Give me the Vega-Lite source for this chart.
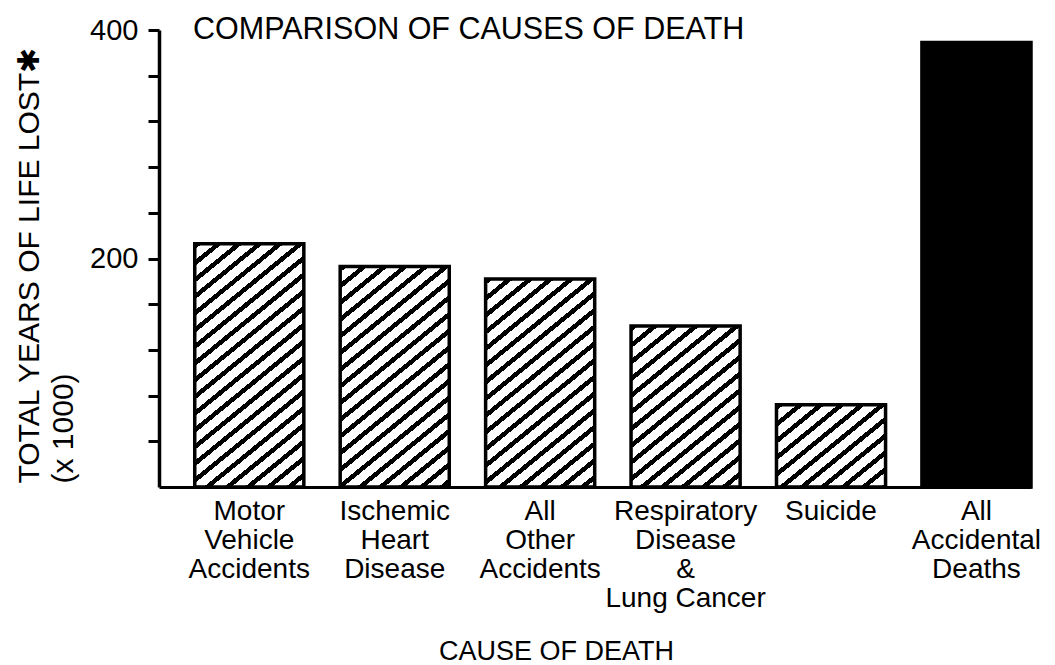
{
  "$schema": "https://vega.github.io/schema/vega-lite/v6.json",
  "autosize": {"type": "none"},
  "padding": {"left": 159, "top": 30, "right": 24, "bottom": 178},
  "width": 872,
  "height": 457,
  "background": "white",
  "title": {"text": "COMPARISON OF CAUSES OF DEATH", "anchor": "start", "frame": "group", "dx": 34, "offset": -53, "baseline": "alphabetic", "fontSize": 30.5, "fontWeight": "normal", "font": "Liberation Sans", "color": "black"},
  "data": {"values": [
    {"cause": "Motor Vehicle Accidents", "years": 213},
    {"cause": "Ischemic Heart Disease", "years": 193},
    {"cause": "All Other Accidents", "years": 182},
    {"cause": "Respiratory Disease & Lung\u00a0Cancer", "years": 141},
    {"cause": "Suicide", "years": 72},
    {"cause": "All Accidental Deaths", "years": 389}
  ]},
  "encoding": {
    "x": {"field": "cause", "type": "nominal",
      "scale": {"domain": ["Motor Vehicle Accidents", "Ischemic Heart Disease", "All Other Accidents", "Respiratory Disease & Lung\u00a0Cancer", "Suicide", "All Accidental Deaths"], "paddingInner": 0.25, "paddingOuter": 0.1229, "align": 1, "round": false},
      "axis": {"title": "CAUSE OF DEATH", "labelAngle": 0, "labelExpr": "split(datum.label, ' ')", "labelFontSize": 28, "labelLineHeight": 29, "labelColor": "black", "labelLimit": 0, "labelOverlap": false, "labelBound": false, "ticks": false, "labelPadding": 10, "domainColor": "black", "domainWidth": 3, "titleFontSize": 27, "titleFontWeight": "normal", "titleColor": "black", "titleX": 397, "titleY": 172, "titleBaseline": "alphabetic", "titleAlign": "center"}},
    "y": {"field": "years", "type": "quantitative",
      "scale": {"domain": [0, 400], "nice": false, "zero": true},
      "axis": {"title": ["TOTAL YEARS OF LIFE LOST\u2731", "(x 1000)"], "titleFontSize": 30, "titleFontWeight": "normal", "titleColor": "black", "titleAngle": 270, "titleX": -121, "titleY": 453, "titleAlign": "left", "titleBaseline": "alphabetic", "titleLineHeight": 34,
        "values": [40, 80, 120, 160, 200, 240, 280, 320, 360, 400], "labelExpr": "datum.value == 200 || datum.value == 400 ? datum.label : ''", "labelFontSize": 29, "labelColor": "black", "labelPadding": 10, "tickSize": 11, "tickWidth": 3, "tickColor": "black", "domainColor": "black", "domainWidth": 3.5, "grid": false, "labelOverlap": false}}
  },
  "layer": [
    {"transform": [{"filter": {"field": "cause", "equal": "Motor Vehicle Accidents"}}],
     "mark": {"type": "bar", "stroke": "black", "strokeWidth": 3.5, "fill": {"gradient": "linear", "x1": 0, "y1": 0, "x2": 0.4643, "y2": 1.2716, "stops": [
{"offset":0,"color":"#000"},{"offset":0.0167,"color":"#000"},{"offset":0.0167,"color":"#fff"},{"offset":0.0476,"color":"#fff"},
{"offset":0.0476,"color":"#000"},{"offset":0.0643,"color":"#000"},{"offset":0.0643,"color":"#fff"},{"offset":0.0952,"color":"#fff"},
{"offset":0.0952,"color":"#000"},{"offset":0.1119,"color":"#000"},{"offset":0.1119,"color":"#fff"},{"offset":0.1429,"color":"#fff"},
{"offset":0.1429,"color":"#000"},{"offset":0.1595,"color":"#000"},{"offset":0.1595,"color":"#fff"},{"offset":0.1905,"color":"#fff"},
{"offset":0.1905,"color":"#000"},{"offset":0.2071,"color":"#000"},{"offset":0.2071,"color":"#fff"},{"offset":0.2381,"color":"#fff"},
{"offset":0.2381,"color":"#000"},{"offset":0.2548,"color":"#000"},{"offset":0.2548,"color":"#fff"},{"offset":0.2857,"color":"#fff"},
{"offset":0.2857,"color":"#000"},{"offset":0.3024,"color":"#000"},{"offset":0.3024,"color":"#fff"},{"offset":0.3333,"color":"#fff"},
{"offset":0.3333,"color":"#000"},{"offset":0.35,"color":"#000"},{"offset":0.35,"color":"#fff"},{"offset":0.381,"color":"#fff"},
{"offset":0.381,"color":"#000"},{"offset":0.3976,"color":"#000"},{"offset":0.3976,"color":"#fff"},{"offset":0.4286,"color":"#fff"},
{"offset":0.4286,"color":"#000"},{"offset":0.4452,"color":"#000"},{"offset":0.4452,"color":"#fff"},{"offset":0.4762,"color":"#fff"},
{"offset":0.4762,"color":"#000"},{"offset":0.4929,"color":"#000"},{"offset":0.4929,"color":"#fff"},{"offset":0.5238,"color":"#fff"},
{"offset":0.5238,"color":"#000"},{"offset":0.5405,"color":"#000"},{"offset":0.5405,"color":"#fff"},{"offset":0.5714,"color":"#fff"},
{"offset":0.5714,"color":"#000"},{"offset":0.5881,"color":"#000"},{"offset":0.5881,"color":"#fff"},{"offset":0.619,"color":"#fff"},
{"offset":0.619,"color":"#000"},{"offset":0.6357,"color":"#000"},{"offset":0.6357,"color":"#fff"},{"offset":0.6667,"color":"#fff"},
{"offset":0.6667,"color":"#000"},{"offset":0.6833,"color":"#000"},{"offset":0.6833,"color":"#fff"},{"offset":0.7143,"color":"#fff"},
{"offset":0.7143,"color":"#000"},{"offset":0.731,"color":"#000"},{"offset":0.731,"color":"#fff"},{"offset":0.7619,"color":"#fff"},
{"offset":0.7619,"color":"#000"},{"offset":0.7786,"color":"#000"},{"offset":0.7786,"color":"#fff"},{"offset":0.8095,"color":"#fff"},
{"offset":0.8095,"color":"#000"},{"offset":0.8262,"color":"#000"},{"offset":0.8262,"color":"#fff"},{"offset":0.8571,"color":"#fff"},
{"offset":0.8571,"color":"#000"},{"offset":0.8738,"color":"#000"},{"offset":0.8738,"color":"#fff"},{"offset":0.9048,"color":"#fff"},
{"offset":0.9048,"color":"#000"},{"offset":0.9214,"color":"#000"},{"offset":0.9214,"color":"#fff"},{"offset":0.9524,"color":"#fff"},
{"offset":0.9524,"color":"#000"},{"offset":0.969,"color":"#000"},{"offset":0.969,"color":"#fff"},{"offset":1,"color":"#fff"}]}}},
    {"transform": [{"filter": {"field": "cause", "equal": "Ischemic Heart Disease"}}],
     "mark": {"type": "bar", "stroke": "black", "strokeWidth": 3.5, "fill": {"gradient": "linear", "x1": 0, "y1": 0, "x2": 0.5514, "y2": 1.3683, "stops": [
{"offset":0,"color":"#000"},{"offset":0.0167,"color":"#000"},{"offset":0.0167,"color":"#fff"},{"offset":0.0476,"color":"#fff"},
{"offset":0.0476,"color":"#000"},{"offset":0.0643,"color":"#000"},{"offset":0.0643,"color":"#fff"},{"offset":0.0952,"color":"#fff"},
{"offset":0.0952,"color":"#000"},{"offset":0.1119,"color":"#000"},{"offset":0.1119,"color":"#fff"},{"offset":0.1429,"color":"#fff"},
{"offset":0.1429,"color":"#000"},{"offset":0.1595,"color":"#000"},{"offset":0.1595,"color":"#fff"},{"offset":0.1905,"color":"#fff"},
{"offset":0.1905,"color":"#000"},{"offset":0.2071,"color":"#000"},{"offset":0.2071,"color":"#fff"},{"offset":0.2381,"color":"#fff"},
{"offset":0.2381,"color":"#000"},{"offset":0.2548,"color":"#000"},{"offset":0.2548,"color":"#fff"},{"offset":0.2857,"color":"#fff"},
{"offset":0.2857,"color":"#000"},{"offset":0.3024,"color":"#000"},{"offset":0.3024,"color":"#fff"},{"offset":0.3333,"color":"#fff"},
{"offset":0.3333,"color":"#000"},{"offset":0.35,"color":"#000"},{"offset":0.35,"color":"#fff"},{"offset":0.381,"color":"#fff"},
{"offset":0.381,"color":"#000"},{"offset":0.3976,"color":"#000"},{"offset":0.3976,"color":"#fff"},{"offset":0.4286,"color":"#fff"},
{"offset":0.4286,"color":"#000"},{"offset":0.4452,"color":"#000"},{"offset":0.4452,"color":"#fff"},{"offset":0.4762,"color":"#fff"},
{"offset":0.4762,"color":"#000"},{"offset":0.4929,"color":"#000"},{"offset":0.4929,"color":"#fff"},{"offset":0.5238,"color":"#fff"},
{"offset":0.5238,"color":"#000"},{"offset":0.5405,"color":"#000"},{"offset":0.5405,"color":"#fff"},{"offset":0.5714,"color":"#fff"},
{"offset":0.5714,"color":"#000"},{"offset":0.5881,"color":"#000"},{"offset":0.5881,"color":"#fff"},{"offset":0.619,"color":"#fff"},
{"offset":0.619,"color":"#000"},{"offset":0.6357,"color":"#000"},{"offset":0.6357,"color":"#fff"},{"offset":0.6667,"color":"#fff"},
{"offset":0.6667,"color":"#000"},{"offset":0.6833,"color":"#000"},{"offset":0.6833,"color":"#fff"},{"offset":0.7143,"color":"#fff"},
{"offset":0.7143,"color":"#000"},{"offset":0.731,"color":"#000"},{"offset":0.731,"color":"#fff"},{"offset":0.7619,"color":"#fff"},
{"offset":0.7619,"color":"#000"},{"offset":0.7786,"color":"#000"},{"offset":0.7786,"color":"#fff"},{"offset":0.8095,"color":"#fff"},
{"offset":0.8095,"color":"#000"},{"offset":0.8262,"color":"#000"},{"offset":0.8262,"color":"#fff"},{"offset":0.8571,"color":"#fff"},
{"offset":0.8571,"color":"#000"},{"offset":0.8738,"color":"#000"},{"offset":0.8738,"color":"#fff"},{"offset":0.9048,"color":"#fff"},
{"offset":0.9048,"color":"#000"},{"offset":0.9214,"color":"#000"},{"offset":0.9214,"color":"#fff"},{"offset":0.9524,"color":"#fff"},
{"offset":0.9524,"color":"#000"},{"offset":0.969,"color":"#000"},{"offset":0.969,"color":"#fff"},{"offset":1,"color":"#fff"}]}}},
    {"transform": [{"filter": {"field": "cause", "equal": "All Other Accidents"}}],
     "mark": {"type": "bar", "stroke": "black", "strokeWidth": 3.5, "fill": {"gradient": "linear", "x1": 0, "y1": 0, "x2": 0.6094, "y2": 1.4262, "stops": [
{"offset":0,"color":"#000"},{"offset":0.0167,"color":"#000"},{"offset":0.0167,"color":"#fff"},{"offset":0.0476,"color":"#fff"},
{"offset":0.0476,"color":"#000"},{"offset":0.0643,"color":"#000"},{"offset":0.0643,"color":"#fff"},{"offset":0.0952,"color":"#fff"},
{"offset":0.0952,"color":"#000"},{"offset":0.1119,"color":"#000"},{"offset":0.1119,"color":"#fff"},{"offset":0.1429,"color":"#fff"},
{"offset":0.1429,"color":"#000"},{"offset":0.1595,"color":"#000"},{"offset":0.1595,"color":"#fff"},{"offset":0.1905,"color":"#fff"},
{"offset":0.1905,"color":"#000"},{"offset":0.2071,"color":"#000"},{"offset":0.2071,"color":"#fff"},{"offset":0.2381,"color":"#fff"},
{"offset":0.2381,"color":"#000"},{"offset":0.2548,"color":"#000"},{"offset":0.2548,"color":"#fff"},{"offset":0.2857,"color":"#fff"},
{"offset":0.2857,"color":"#000"},{"offset":0.3024,"color":"#000"},{"offset":0.3024,"color":"#fff"},{"offset":0.3333,"color":"#fff"},
{"offset":0.3333,"color":"#000"},{"offset":0.35,"color":"#000"},{"offset":0.35,"color":"#fff"},{"offset":0.381,"color":"#fff"},
{"offset":0.381,"color":"#000"},{"offset":0.3976,"color":"#000"},{"offset":0.3976,"color":"#fff"},{"offset":0.4286,"color":"#fff"},
{"offset":0.4286,"color":"#000"},{"offset":0.4452,"color":"#000"},{"offset":0.4452,"color":"#fff"},{"offset":0.4762,"color":"#fff"},
{"offset":0.4762,"color":"#000"},{"offset":0.4929,"color":"#000"},{"offset":0.4929,"color":"#fff"},{"offset":0.5238,"color":"#fff"},
{"offset":0.5238,"color":"#000"},{"offset":0.5405,"color":"#000"},{"offset":0.5405,"color":"#fff"},{"offset":0.5714,"color":"#fff"},
{"offset":0.5714,"color":"#000"},{"offset":0.5881,"color":"#000"},{"offset":0.5881,"color":"#fff"},{"offset":0.619,"color":"#fff"},
{"offset":0.619,"color":"#000"},{"offset":0.6357,"color":"#000"},{"offset":0.6357,"color":"#fff"},{"offset":0.6667,"color":"#fff"},
{"offset":0.6667,"color":"#000"},{"offset":0.6833,"color":"#000"},{"offset":0.6833,"color":"#fff"},{"offset":0.7143,"color":"#fff"},
{"offset":0.7143,"color":"#000"},{"offset":0.731,"color":"#000"},{"offset":0.731,"color":"#fff"},{"offset":0.7619,"color":"#fff"},
{"offset":0.7619,"color":"#000"},{"offset":0.7786,"color":"#000"},{"offset":0.7786,"color":"#fff"},{"offset":0.8095,"color":"#fff"},
{"offset":0.8095,"color":"#000"},{"offset":0.8262,"color":"#000"},{"offset":0.8262,"color":"#fff"},{"offset":0.8571,"color":"#fff"},
{"offset":0.8571,"color":"#000"},{"offset":0.8738,"color":"#000"},{"offset":0.8738,"color":"#fff"},{"offset":0.9048,"color":"#fff"},
{"offset":0.9048,"color":"#000"},{"offset":0.9214,"color":"#000"},{"offset":0.9214,"color":"#fff"},{"offset":0.9524,"color":"#fff"},
{"offset":0.9524,"color":"#000"},{"offset":0.969,"color":"#000"},{"offset":0.969,"color":"#fff"},{"offset":1,"color":"#fff"}]}}},
    {"transform": [{"filter": {"field": "cause", "equal": "Respiratory Disease & Lung\u00a0Cancer"}}],
     "mark": {"type": "bar", "stroke": "black", "strokeWidth": 3.5, "fill": {"gradient": "linear", "x1": 0, "y1": 0, "x2": 0.9207, "y2": 1.6692, "stops": [
{"offset":0,"color":"#000"},{"offset":0.0167,"color":"#000"},{"offset":0.0167,"color":"#fff"},{"offset":0.0476,"color":"#fff"},
{"offset":0.0476,"color":"#000"},{"offset":0.0643,"color":"#000"},{"offset":0.0643,"color":"#fff"},{"offset":0.0952,"color":"#fff"},
{"offset":0.0952,"color":"#000"},{"offset":0.1119,"color":"#000"},{"offset":0.1119,"color":"#fff"},{"offset":0.1429,"color":"#fff"},
{"offset":0.1429,"color":"#000"},{"offset":0.1595,"color":"#000"},{"offset":0.1595,"color":"#fff"},{"offset":0.1905,"color":"#fff"},
{"offset":0.1905,"color":"#000"},{"offset":0.2071,"color":"#000"},{"offset":0.2071,"color":"#fff"},{"offset":0.2381,"color":"#fff"},
{"offset":0.2381,"color":"#000"},{"offset":0.2548,"color":"#000"},{"offset":0.2548,"color":"#fff"},{"offset":0.2857,"color":"#fff"},
{"offset":0.2857,"color":"#000"},{"offset":0.3024,"color":"#000"},{"offset":0.3024,"color":"#fff"},{"offset":0.3333,"color":"#fff"},
{"offset":0.3333,"color":"#000"},{"offset":0.35,"color":"#000"},{"offset":0.35,"color":"#fff"},{"offset":0.381,"color":"#fff"},
{"offset":0.381,"color":"#000"},{"offset":0.3976,"color":"#000"},{"offset":0.3976,"color":"#fff"},{"offset":0.4286,"color":"#fff"},
{"offset":0.4286,"color":"#000"},{"offset":0.4452,"color":"#000"},{"offset":0.4452,"color":"#fff"},{"offset":0.4762,"color":"#fff"},
{"offset":0.4762,"color":"#000"},{"offset":0.4929,"color":"#000"},{"offset":0.4929,"color":"#fff"},{"offset":0.5238,"color":"#fff"},
{"offset":0.5238,"color":"#000"},{"offset":0.5405,"color":"#000"},{"offset":0.5405,"color":"#fff"},{"offset":0.5714,"color":"#fff"},
{"offset":0.5714,"color":"#000"},{"offset":0.5881,"color":"#000"},{"offset":0.5881,"color":"#fff"},{"offset":0.619,"color":"#fff"},
{"offset":0.619,"color":"#000"},{"offset":0.6357,"color":"#000"},{"offset":0.6357,"color":"#fff"},{"offset":0.6667,"color":"#fff"},
{"offset":0.6667,"color":"#000"},{"offset":0.6833,"color":"#000"},{"offset":0.6833,"color":"#fff"},{"offset":0.7143,"color":"#fff"},
{"offset":0.7143,"color":"#000"},{"offset":0.731,"color":"#000"},{"offset":0.731,"color":"#fff"},{"offset":0.7619,"color":"#fff"},
{"offset":0.7619,"color":"#000"},{"offset":0.7786,"color":"#000"},{"offset":0.7786,"color":"#fff"},{"offset":0.8095,"color":"#fff"},
{"offset":0.8095,"color":"#000"},{"offset":0.8262,"color":"#000"},{"offset":0.8262,"color":"#fff"},{"offset":0.8571,"color":"#fff"},
{"offset":0.8571,"color":"#000"},{"offset":0.8738,"color":"#000"},{"offset":0.8738,"color":"#fff"},{"offset":0.9048,"color":"#fff"},
{"offset":0.9048,"color":"#000"},{"offset":0.9214,"color":"#000"},{"offset":0.9214,"color":"#fff"},{"offset":0.9524,"color":"#fff"},
{"offset":0.9524,"color":"#000"},{"offset":0.969,"color":"#000"},{"offset":0.969,"color":"#fff"},{"offset":1,"color":"#fff"}]}}},
    {"transform": [{"filter": {"field": "cause", "equal": "Suicide"}}],
     "mark": {"type": "bar", "stroke": "black", "strokeWidth": 3.5, "fill": {"gradient": "linear", "x1": 0, "y1": 0, "x2": 2.1253, "y2": 1.9676, "stops": [
{"offset":0,"color":"#000"},{"offset":0.0167,"color":"#000"},{"offset":0.0167,"color":"#fff"},{"offset":0.0476,"color":"#fff"},
{"offset":0.0476,"color":"#000"},{"offset":0.0643,"color":"#000"},{"offset":0.0643,"color":"#fff"},{"offset":0.0952,"color":"#fff"},
{"offset":0.0952,"color":"#000"},{"offset":0.1119,"color":"#000"},{"offset":0.1119,"color":"#fff"},{"offset":0.1429,"color":"#fff"},
{"offset":0.1429,"color":"#000"},{"offset":0.1595,"color":"#000"},{"offset":0.1595,"color":"#fff"},{"offset":0.1905,"color":"#fff"},
{"offset":0.1905,"color":"#000"},{"offset":0.2071,"color":"#000"},{"offset":0.2071,"color":"#fff"},{"offset":0.2381,"color":"#fff"},
{"offset":0.2381,"color":"#000"},{"offset":0.2548,"color":"#000"},{"offset":0.2548,"color":"#fff"},{"offset":0.2857,"color":"#fff"},
{"offset":0.2857,"color":"#000"},{"offset":0.3024,"color":"#000"},{"offset":0.3024,"color":"#fff"},{"offset":0.3333,"color":"#fff"},
{"offset":0.3333,"color":"#000"},{"offset":0.35,"color":"#000"},{"offset":0.35,"color":"#fff"},{"offset":0.381,"color":"#fff"},
{"offset":0.381,"color":"#000"},{"offset":0.3976,"color":"#000"},{"offset":0.3976,"color":"#fff"},{"offset":0.4286,"color":"#fff"},
{"offset":0.4286,"color":"#000"},{"offset":0.4452,"color":"#000"},{"offset":0.4452,"color":"#fff"},{"offset":0.4762,"color":"#fff"},
{"offset":0.4762,"color":"#000"},{"offset":0.4929,"color":"#000"},{"offset":0.4929,"color":"#fff"},{"offset":0.5238,"color":"#fff"},
{"offset":0.5238,"color":"#000"},{"offset":0.5405,"color":"#000"},{"offset":0.5405,"color":"#fff"},{"offset":0.5714,"color":"#fff"},
{"offset":0.5714,"color":"#000"},{"offset":0.5881,"color":"#000"},{"offset":0.5881,"color":"#fff"},{"offset":0.619,"color":"#fff"},
{"offset":0.619,"color":"#000"},{"offset":0.6357,"color":"#000"},{"offset":0.6357,"color":"#fff"},{"offset":0.6667,"color":"#fff"},
{"offset":0.6667,"color":"#000"},{"offset":0.6833,"color":"#000"},{"offset":0.6833,"color":"#fff"},{"offset":0.7143,"color":"#fff"},
{"offset":0.7143,"color":"#000"},{"offset":0.731,"color":"#000"},{"offset":0.731,"color":"#fff"},{"offset":0.7619,"color":"#fff"},
{"offset":0.7619,"color":"#000"},{"offset":0.7786,"color":"#000"},{"offset":0.7786,"color":"#fff"},{"offset":0.8095,"color":"#fff"},
{"offset":0.8095,"color":"#000"},{"offset":0.8262,"color":"#000"},{"offset":0.8262,"color":"#fff"},{"offset":0.8571,"color":"#fff"},
{"offset":0.8571,"color":"#000"},{"offset":0.8738,"color":"#000"},{"offset":0.8738,"color":"#fff"},{"offset":0.9048,"color":"#fff"},
{"offset":0.9048,"color":"#000"},{"offset":0.9214,"color":"#000"},{"offset":0.9214,"color":"#fff"},{"offset":0.9524,"color":"#fff"},
{"offset":0.9524,"color":"#000"},{"offset":0.969,"color":"#000"},{"offset":0.969,"color":"#fff"},{"offset":1,"color":"#fff"}]}}},
    {"transform": [{"filter": {"field": "cause", "equal": "All Accidental Deaths"}}],
     "mark": {"type": "bar", "stroke": "black", "strokeWidth": 3.5, "fill": "black"}}
  ],
  "config": {
    "font": "Liberation Sans",
    "view": {"stroke": null},
    "axis": {"labelFont": "Liberation Sans", "titleFont": "Liberation Sans"}
  }
}
